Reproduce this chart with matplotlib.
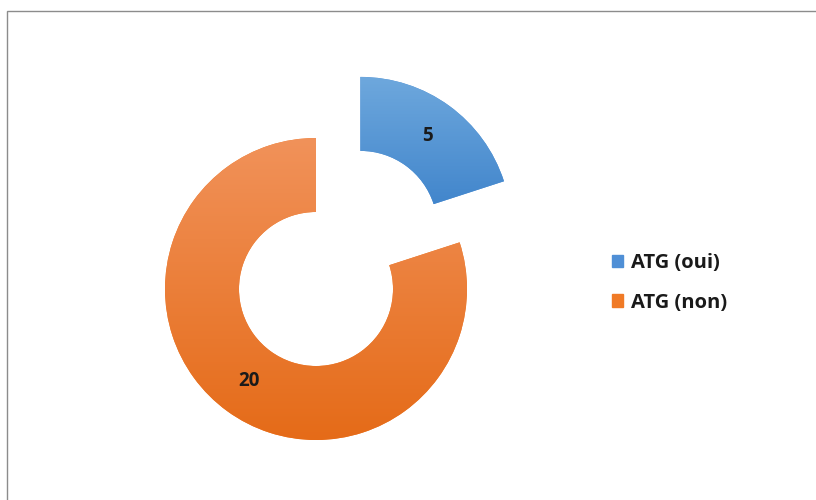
import matplotlib
matplotlib.use('Agg')
import matplotlib.pyplot as plt
from matplotlib.patches import Rectangle
import numpy as np

labels = ['ATG (oui)', 'ATG (non)']
values = [5, 20]
legend_colors = ['#4f8fd6', '#f07a26']
grad_top = ['#6ea8dd', '#f1925a']
grad_bottom = ['#4286cc', '#e56b18']

plt.rcParams['font.family'] = ['Open Sans', 'DejaVu Sans']

fig = plt.figure(figsize=(8.16, 5.0), dpi=100)

# page border
fig.patches.append(Rectangle((7 / 816, -0.1), 1.2, 1.1 - 11 / 500,
                             transform=fig.transFigure, fill=False,
                             edgecolor='#8c8c8c', linewidth=1.0))

size = 3.2 * 151
cx, cy = 316, 500 - 289
ax = fig.add_axes([(cx - size / 2) / 816, (cy - size / 2) / 500, size / 816, size / 500])

wedges, texts, autotexts = ax.pie(
    values, startangle=90, counterclock=False, explode=[0.5, 0],
    colors=legend_colors, radius=1.0,
    wedgeprops=dict(width=0.49, linewidth=0),
    autopct=lambda p: '%d' % round(p * sum(values) / 100),
    pctdistance=0.755,
    textprops=dict(fontsize=13.5, fontweight='bold', color='#1a1a1a'))

# vertical gradient fill in each slice
for w, top, bot in zip(wedges, grad_top, grad_bottom):
    bb = w.get_path().get_extents(w.get_patch_transform())
    c1 = np.array(matplotlib.colors.to_rgb(top))
    c2 = np.array(matplotlib.colors.to_rgb(bot))
    t = np.linspace(0, 1, 256)[:, None]
    img = (c1 * (1 - t) + c2 * t)[:, None, :]
    im = ax.imshow(img, extent=[bb.x0, bb.x1, bb.y0, bb.y1], origin='upper',
                   aspect='auto', zorder=w.get_zorder(), interpolation='bilinear')
    im.set_clip_path(w)
for t in autotexts:
    t.set_zorder(5)

ax.set_xlim(-1.6, 1.6)
ax.set_ylim(-1.6, 1.6)
ax.set_aspect('equal')
ax.axis('off')

handles = [Rectangle((0, 0), 1, 1, color=c) for c in legend_colors]
fig.legend(handles, labels, loc='upper left', bbox_to_anchor=(594 / 816, 1 - 235 / 500),
           frameon=False, prop=dict(size=14.5, weight='bold'),
           handlelength=0.55, handleheight=0.55, handletextpad=0.4,
           labelspacing=0.97, labelcolor='#1a1a1a')

fig.savefig('out.png', dpi=100)
